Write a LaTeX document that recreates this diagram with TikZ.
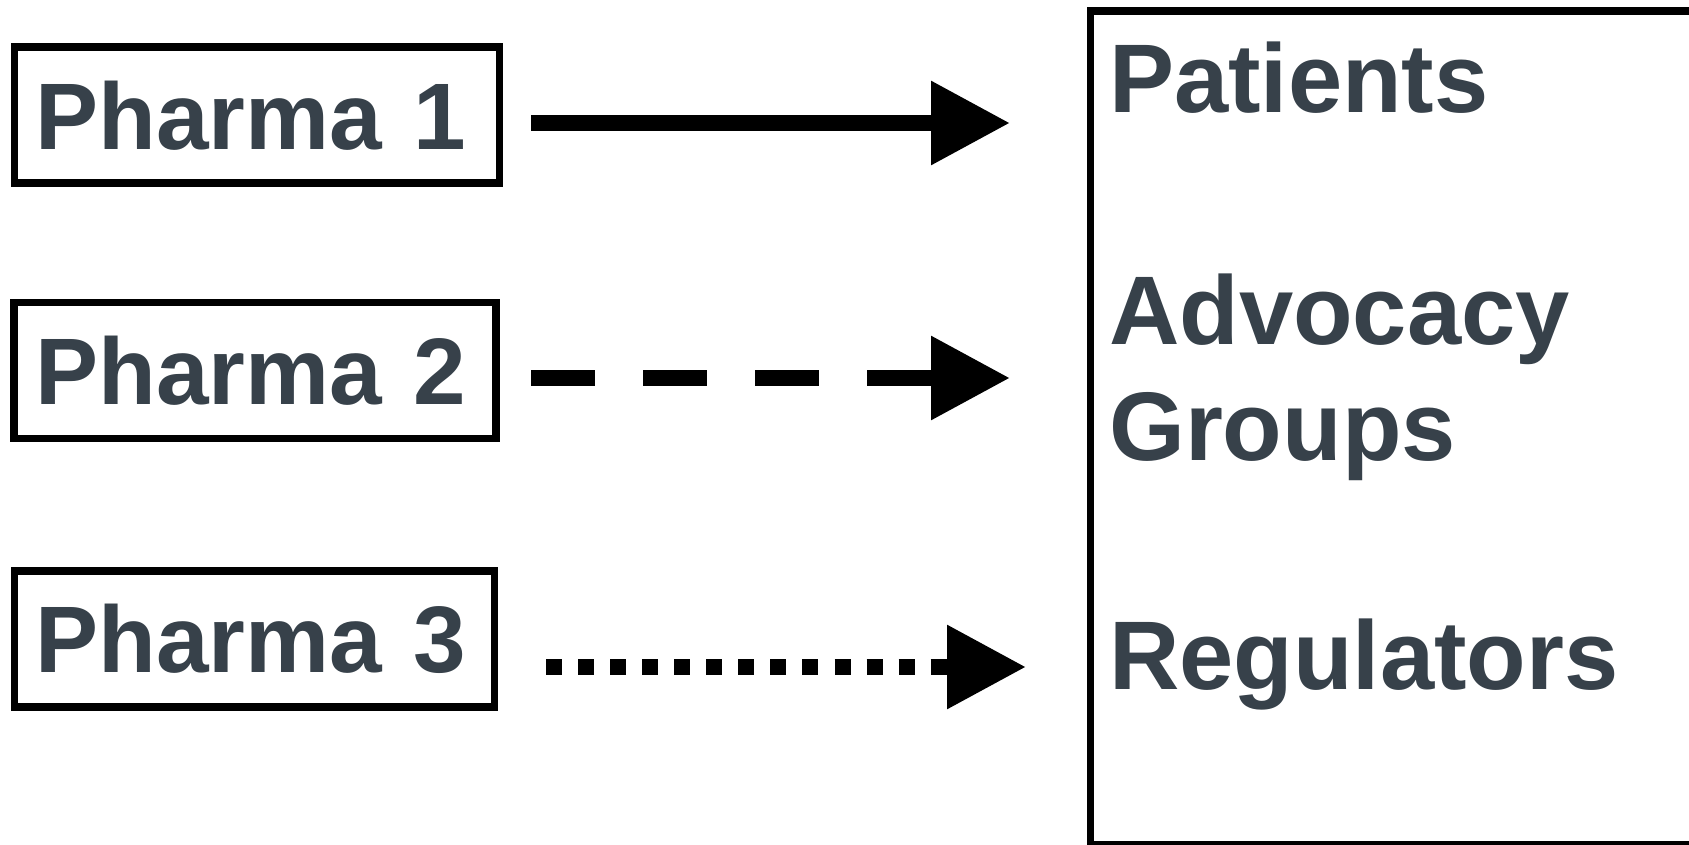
\documentclass[tikz,border=0pt]{standalone}
\usepackage{fontspec}
\setmainfont{Liberation Sans}
\usetikzlibrary{positioning, arrows.meta}

\definecolor{inkgray}{RGB}{55,65,74}

\tikzset{
  pharma/.style={draw, line width=7.7pt, minimum height=136pt, inner ysep=0pt,
    inner xsep=21pt, text width=#1, align=left,
    text=inkgray, font=\bfseries\fontsize{94.5}{116}\selectfont},
  group/.style={anchor=base west, inner sep=0pt, align=left,
    text=inkgray, font=\bfseries\fontsize{97.5}{116}\selectfont},
  flow/.style={line width=16pt, -{Triangle[length=79pt, width=80pt]}},
}

\begin{document}
\begin{tikzpicture}[x=1pt, y=-1pt, node distance=255pt, on grid]
  \useasboundingbox (0,0) rectangle (1689,845);

  % senders
  \node[pharma=443pt] (p1) at (256.9,115.25) {Pharma 1};
  \node[pharma=440pt] (p2) [below=255.25pt of p1, xshift=-1.6pt] {Pharma 2};
  \node[pharma=438pt] (p3) [below=268.2pt of p2, xshift=-0.8pt] {Pharma 3};

  % receivers
  \node[draw, line width=7.7pt, minimum width=800pt, minimum height=834pt,
    inner sep=0pt, outer sep=0pt, anchor=north west] (stake) at (1090.5,10.8) {};
  \node[group] (patients) at (1109,113) {Patients};
  \node[group] (advocacy) at (1109,460) {Advocacy\\Groups};
  \node[group] (regulators) at (1109,689) {Regulators};

  \coordinate (s1) at (531,123);
  \coordinate (e1) at (1010,123);
  \coordinate (s2) at (531,378);
  \coordinate (e2) at (1010,378);
  \coordinate (s3) at (546,667);
  \coordinate (e3) at (1026,667);

  \draw[flow] (s1) -- (e1);
  \draw[flow, dash pattern=on 64pt off 48pt] (s2) -- (e2);
  \draw[flow, dash pattern=on 16pt off 16.06pt] (s3) -- (e3);
\end{tikzpicture}
\end{document}
